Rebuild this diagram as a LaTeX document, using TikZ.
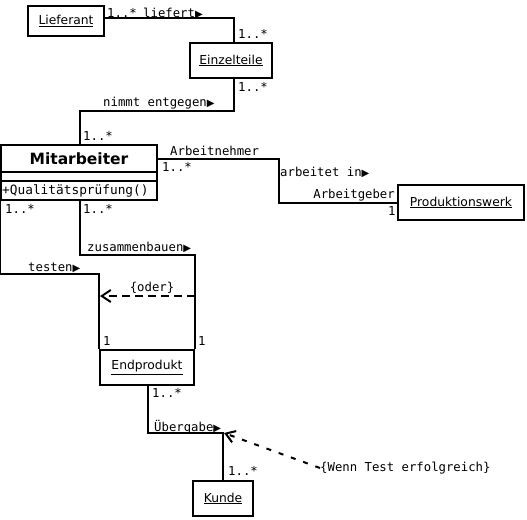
\documentclass[tikz,border=0pt]{standalone}
\usepackage{fontspec}
\setmainfont{DejaVu Sans}
\newfontfamily\monof{DejaVu Sans Mono}
\usetikzlibrary{arrows.meta}
\newcommand\navarrow{{\rmfamily\fontsize{10}{10}\selectfont ▶}}
\begin{document}
\begin{tikzpicture}[x=1pt,y=-1pt,
  cls/.style={draw,line width=2pt,inner sep=0pt,font=\fontsize{12.3}{14}\selectfont},
  lbl/.style={font=\monof\fontsize{12.3}{14}\selectfont,inner sep=0pt,anchor=west},
  assoc/.style={line width=2pt},
  dep/.style={line width=2pt,dash pattern=on 8pt off 5pt,-{Straight Barb[length=9pt,width=12pt]}},
  dep2/.style={line width=2pt,dash pattern=on 5pt off 8pt,-{Straight Barb[length=9pt,width=12pt]}}]
\useasboundingbox (0,0) rectangle (527,519);
% classes
\node[cls,minimum width=76pt,minimum height=30pt] (lief) at (66,21) {\underline{Lieferant}};
\node[cls,minimum width=82pt,minimum height=35pt] (einz) at (231,60.5) {\underline{Einzelteile}};
\node[cls,minimum width=156pt,minimum height=27pt,font=\bfseries\fontsize{15.5}{17}\selectfont] (mit) at (79,158.5) {Mitarbeiter};
\node[cls,minimum width=156pt,minimum height=9pt] (mitattr) at (79,176.5) {};
\node[cls,minimum width=156pt,minimum height=19pt] (mitops) at (79,190.5) {};
\node[lbl,font=\monof\fontsize{12.8}{14}\selectfont] (ops) at (2,190.5) {+Qualitätsprüfung()};
\node[cls,minimum width=126pt,minimum height=35pt] (prod) at (461,202.5) {\underline{Produktionswerk}};
\node[cls,minimum width=94pt,minimum height=35pt] (endp) at (147,367.5) {\underline{Endprodukt}};
\node[cls,minimum width=60pt,minimum height=35pt] (kunde) at (223,498.5) {\underline{Kunde}};
% associations
\draw[assoc] ([yshift=3pt]lief.east) -| ([xshift=3pt]einz.north);
\draw[assoc] ([xshift=3pt]einz.south) -- ++(0,32) -| ([xshift=1pt]mit.north);
\draw[assoc] (mit.east) -- ++(121,0) |- (prod.west);
\draw[assoc] (mitops.south west) -- ++(0,73) -| (endp.north west);
\draw[assoc] ([xshift=1pt]mitops.south) -- ++(0,54) -| (endp.north east);
\draw[assoc] ([xshift=1pt]endp.south) -- ++(0,47) -| (kunde.north);
\coordinate (uebc) at ([yshift=49pt]kunde.north);
% constraints
\coordinate (oderR) at ([yshift=53pt]endp.north east);
\coordinate (oderL) at ([yshift=53pt,xshift=1pt]endp.north west);
\draw[dep] (oderR) -- (oderL);
\node[lbl,anchor=center] (oder) at (152,288) {\{oder\}};
\node[lbl] (wenn) at (320,468) {\{Wenn Test erfolgreich\}};
\draw[dep2] (wenn.west) -- ([xshift=1pt,yshift=-2pt]uebc);
% labels
\node[lbl] (m1) at (107,13) {1..*};
\node[lbl] (n1) at (143,13) {liefert\navarrow};
\node[lbl] (m2) at (238,34) {1..*};
\node[lbl] (m3) at (238,87) {1..*};
\node[lbl] (n2) at (103,103) {nimmt entgegen\navarrow};
\node[lbl] (m4) at (83,136) {1..*};
\node[lbl] (r1) at (170,151) {Arbeitnehmer};
\node[lbl] (m5) at (162,167) {1..*};
\node[lbl] (n3) at (280,172) {arbeitet in\navarrow};
\node[lbl,anchor=east] (r2) at (395,195) {Arbeitgeber};
\node[lbl] (m6) at (388,211) {1};
\node[lbl] (m7) at (5,209) {1..*};
\node[lbl] (m8) at (83,209) {1..*};
\node[lbl] (n4) at (87,247) {zusammenbauen\navarrow};
\node[lbl] (n5) at (28,268) {testen\navarrow};
\node[lbl] (m9) at (103,341) {1};
\node[lbl] (m10) at (198,341) {1};
\node[lbl] (m11) at (152,393) {1..*};
\node[lbl] (n6) at (154,427) {Übergabe\navarrow};
\node[lbl] (m12) at (228,471) {1..*};
\end{tikzpicture}
\end{document}
